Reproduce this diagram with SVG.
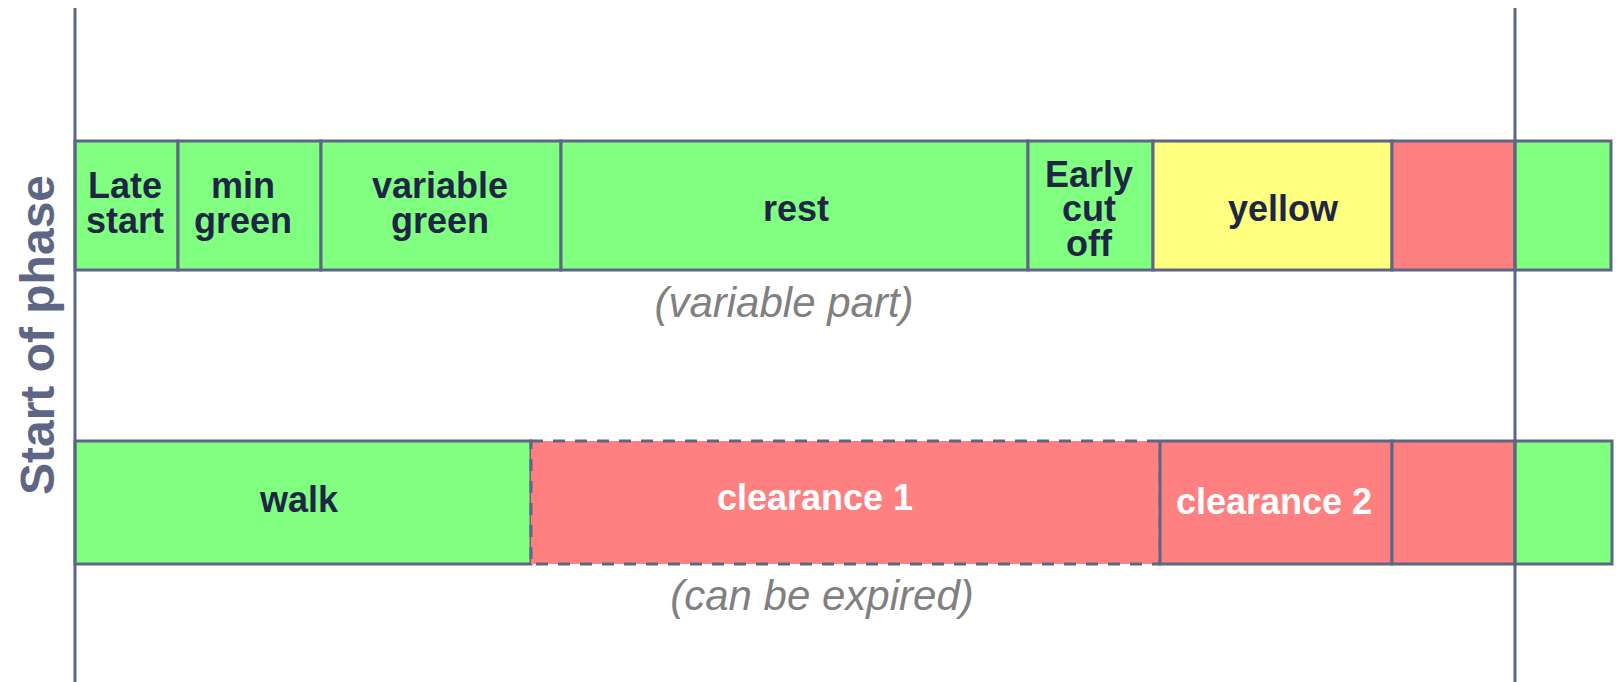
<svg xmlns="http://www.w3.org/2000/svg" width="1619" height="682" viewBox="0 0 1619 682">
  <style>
    .cell { stroke: #5e6685; stroke-width: 3; }
    .green { fill: #80ff80; }
    .yellow { fill: #ffff80; }
    .red { fill: #ff8080; }
    .dashed { stroke-dasharray: 12 10; }
    .lbl { font-family: "Liberation Sans", Arial, sans-serif; font-weight: bold; font-size: 36px; fill: #1e2545; text-anchor: middle; }
    .white { fill: #ffffff; }
    .note { font-family: "Liberation Sans", Arial, sans-serif; font-style: italic; font-size: 42px; fill: #808080; text-anchor: middle; }
    .axis { stroke: #5e6685; stroke-width: 3; fill: none; }
    .side { font-family: "Liberation Sans", Arial, sans-serif; font-weight: bold; font-size: 48px; fill: #5e6685; text-anchor: middle; }
  </style>

  <rect width="1619" height="682" fill="#ffffff"/>

  <!-- vehicle signal timeline -->
  <g id="late-start">
    <rect class="cell green" x="75" y="141" width="103" height="129"/>
    <text class="lbl" x="125" y="198">Late</text>
    <text class="lbl" x="125" y="233">start</text>
  </g>
  <g id="min-green">
    <rect class="cell green" x="178" y="141" width="143" height="129"/>
    <text class="lbl" x="243" y="198">min</text>
    <text class="lbl" x="243" y="233">green</text>
  </g>
  <g id="variable-green">
    <rect class="cell green" x="321" y="141" width="240" height="129"/>
    <text class="lbl" x="440" y="198">variable</text>
    <text class="lbl" x="440" y="233">green</text>
  </g>
  <g id="rest">
    <rect class="cell green" x="561" y="141" width="467" height="129"/>
    <text class="lbl" x="796" y="221">rest</text>
  </g>
  <g id="early-cut-off">
    <rect class="cell green" x="1028" y="141" width="125" height="129"/>
    <text class="lbl" x="1089" y="187">Early</text>
    <text class="lbl" x="1089" y="221">cut</text>
    <text class="lbl" x="1089" y="256">off</text>
  </g>
  <g id="yellow">
    <rect class="cell yellow" x="1153" y="141" width="239" height="129"/>
    <text class="lbl" x="1283" y="221">yellow</text>
  </g>
  <g id="red-vehicle">
    <rect class="cell red" x="1392" y="141" width="123" height="129"/>
  </g>
  <g id="next-green-vehicle">
    <rect class="cell green" x="1515" y="141" width="96" height="129"/>
  </g>
  <text class="note" x="784" y="317">(variable part)</text>

  <!-- pedestrian signal timeline -->
  <g id="walk">
    <rect class="cell green" x="75" y="441" width="456" height="123"/>
    <text class="lbl" x="299" y="512">walk</text>
  </g>
  <g id="clearance-1">
    <rect class="cell red dashed" x="531" y="441" width="629" height="123"/>
    <text class="lbl white" x="815" y="510">clearance 1</text>
  </g>
  <g id="clearance-2">
    <rect class="cell red" x="1160" y="441" width="232" height="123"/>
    <text class="lbl white" x="1274" y="514">clearance 2</text>
  </g>
  <g id="red-pedestrian">
    <rect class="cell red" x="1392" y="441" width="123" height="123"/>
  </g>
  <g id="next-green-pedestrian">
    <rect class="cell green" x="1515" y="441" width="97" height="123"/>
  </g>
  <text class="note" x="822" y="610">(can be expired)</text>

  <!-- phase boundaries -->
  <g id="connectors">
    <line class="axis" x1="75" y1="8" x2="75" y2="682"/>
    <line class="axis" x1="1515" y1="8" x2="1515" y2="682"/>
  </g>

  <text class="side" transform="translate(54,335) rotate(-90)">Start of phase</text>
</svg>
